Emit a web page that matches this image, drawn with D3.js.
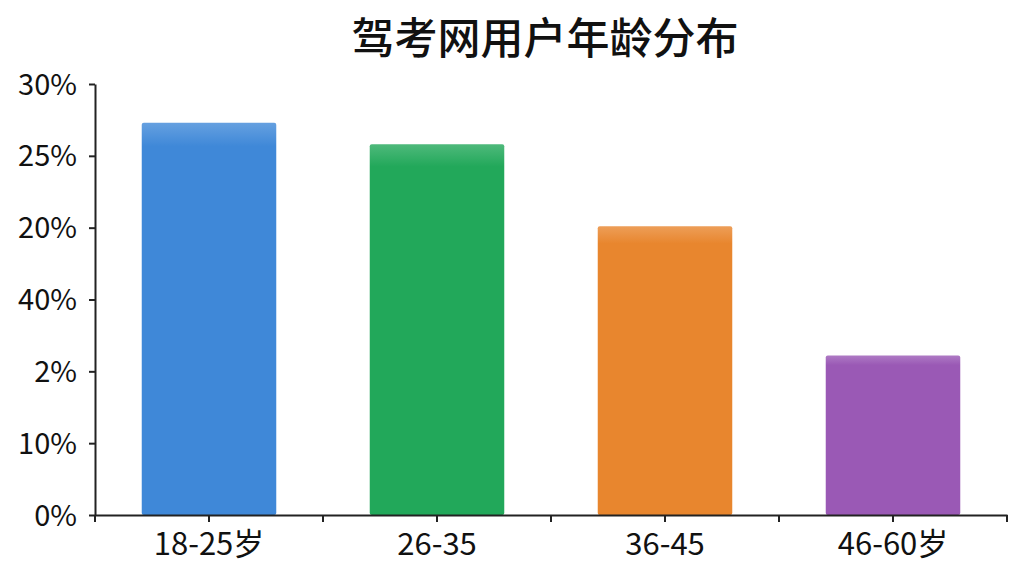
<!DOCTYPE html>
<html><head><meta charset="utf-8">
<script src="https://cdn.jsdelivr.net/npm/d3@7"></script>
<style>html,body{margin:0;padding:0;background:#fff;}</style>
</head><body>
<svg id="c" width="1024" height="576"></svg>
<script>
const title = "驾考网用户年龄分布";
const categories = ["18-25岁", "26-35", "36-45", "46-60岁"];
const values = [27.3, 25.8, 20.1, 11.1];
const colors = ["#3f88d8", "#22a85a", "#e8862e", "#9a59b5"];
const yTickValues = [0, 5, 10, 15, 20, 25, 30];
const yTickLabels = ["0%", "10%", "2%", "40%", "20%", "25%", "30%"];

const svg = d3.select("#c");
const font = "'Noto Sans CJK SC','Noto Sans',sans-serif";
const m = {left: 95, right: 17, top: 84, bottom: 61};
const W = 1024, H = 576;

const x = d3.scaleBand().domain(categories).range([m.left, W - m.right]).paddingInner(0.41).paddingOuter(0.205);
const y = d3.scaleLinear().domain([0, 30]).range([H - m.bottom, m.top]);

const defs = svg.append("defs");
colors.forEach((c, i) => {
  const g = defs.append("linearGradient").attr("id", "g" + i).attr("x1", 0).attr("y1", 0).attr("x2", 0).attr("y2", 1);
  g.append("stop").attr("offset", "0%").attr("stop-color", d3.interpolateRgb(c, "#fff")(0.2));
  g.append("stop").attr("offset", "6%").attr("stop-color", c);
  g.append("stop").attr("offset", "100%").attr("stop-color", c);
});

svg.append("text").attr("x", 545).attr("y", 54).attr("text-anchor", "middle")
  .attr("font-family", font).attr("font-size", 43).attr("font-weight", 500).attr("fill", "#111").text(title);

svg.selectAll("rect.bar").data(values).join("rect").attr("class", "bar")
  .attr("x", (d, i) => x(categories[i])).attr("width", x.bandwidth())
  .attr("y", d => y(d)).attr("height", d => y(0) - y(d))
  .attr("rx", 2).attr("fill", (d, i) => "url(#g" + i + ")");

// y axis
const ya = svg.append("g").attr("transform", `translate(${m.left},0)`)
  .call(d3.axisLeft(y).tickValues(yTickValues).tickFormat((d, i) => yTickLabels[i]).tickSize(6).tickSizeOuter(0));
ya.select(".domain").attr("stroke", "#222").attr("stroke-width", 2);
ya.selectAll(".tick line").attr("stroke", "#222").attr("stroke-width", 2);
ya.selectAll(".tick text").attr("font-family", font).attr("font-size", 29).attr("fill", "#111").attr("x", -18).attr("dy", "0.35em");

// x axis
const xa = svg.append("g").attr("transform", `translate(0,${H - m.bottom})`)
  .call(d3.axisBottom(x).tickSize(0).tickSizeOuter(0));
xa.select(".domain").attr("stroke", "#222").attr("stroke-width", 2);
xa.selectAll(".tick text").attr("font-family", font).attr("font-size", 31).attr("fill", "#111").attr("y", 18).attr("dy", "0.71em");
// ticks at band centres and boundaries
const step = x.step();
const tickXs = [];
for (let i = 0; i <= categories.length; i++) tickXs.push(m.left + i * step);
categories.forEach(c => tickXs.push(x(c) + x.bandwidth() / 2));
xa.selectAll("line.tk").data(tickXs).join("line").attr("class", "tk")
  .attr("x1", d => d).attr("x2", d => d).attr("y1", 0).attr("y2", 7)
  .attr("stroke", "#222").attr("stroke-width", 2);
</script>
</body></html>
